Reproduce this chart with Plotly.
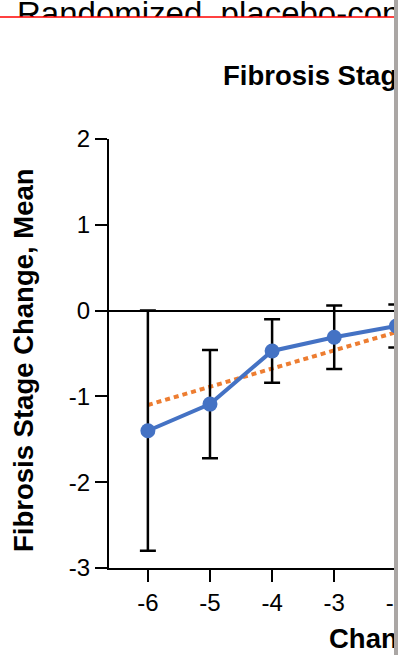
import plotly.graph_objects as go

# ---- data ----
weight_change = [-6, -5, -4, -3, -2]
fibrosis_mean = [-1.40, -1.09, -0.47, -0.31, -0.18]
fibrosis_err = [1.40, 0.63, 0.37, 0.37, 0.25]
trend_x = [-6, -1.5]
trend_y = [-1.10, -0.145]
y_ticks = [-3, -2, -1, 0, 1, 2]
y_tick_labels = ["-3", "-2", "-1", "0", "1", "2"]
x_ticks = [-6, -5, -4, -3, -2]
x_tick_labels = ["-6", "-5", "-4", "-3", "-2"]

header_text = "Randomized, placebo-controlled trials"
title_text = "Fibrosis Stage Change vs Weight Change"
x_title = "Change in Weight, %"
y_title = "Fibrosis Stage Change, Mean"

W, H = 398, 655
FONT = "Liberation Sans, Arial, sans-serif"
CLIP_R = 394  # pixel where the gray strip begins

fig = go.Figure()

fig.add_trace(go.Scatter(
    x=trend_x, y=trend_y, mode="lines",
    line=dict(color="#ED7D31", width=4, dash="5px,4px"),
    hoverinfo="skip", showlegend=False))

fig.add_trace(go.Scatter(
    x=weight_change, y=fibrosis_mean, mode="lines+markers",
    line=dict(color="#4472C4", width=4),
    marker=dict(color="#4472C4", size=15),
    error_y=dict(type="data", array=fibrosis_err, visible=True,
                 color="black", thickness=2.5, width=8),
    hoverinfo="skip", showlegend=False))

# overlay subplot (pixel coordinates) for clipped titles
fig.add_trace(go.Scatter(
    x=[223, 329], y=[78, 641], mode="text",
    text=[title_text, x_title], textposition="middle right",
    textfont=dict(family=FONT, size=27.5, color="black", weight="bold"),
    xaxis="x3", yaxis="y3", hoverinfo="skip", showlegend=False))

# header strip (clipped at red line)
fig.add_trace(go.Scatter(
    x=[17], y=[17], mode="text",
    text=[header_text], textposition="middle right",
    textfont=dict(family=FONT, size=33, color="black"),
    xaxis="x4", yaxis="y4", hoverinfo="skip", showlegend=False))

x_left_px, plot_top_px, plot_bot_px = 109, 139, 568

fig.update_layout(
    width=W, height=H,
    margin=dict(l=0, r=0, t=0, b=0),
    paper_bgcolor="white", plot_bgcolor="rgba(0,0,0,0)",
    font=dict(family=FONT, color="black"),
    xaxis=dict(
        domain=[x_left_px / W, 1], range=[-6.626, -1.973],
        tickmode="array", tickvals=x_ticks, ticktext=x_tick_labels,
        ticks="outside", ticklen=12, tickwidth=2, tickcolor="black",
        showline=True, linewidth=2, linecolor="black",
        showgrid=False, zeroline=False, tickfont=dict(size=24),
        ticklabeloverflow="allow",
        automargin=False, fixedrange=True, anchor="y"),
    yaxis=dict(
        domain=[(H - plot_bot_px) / H, (H - plot_top_px) / H], range=[-3, 2],
        tickmode="array", tickvals=y_ticks, ticktext=y_tick_labels,
        ticks="outside", ticklen=12, tickwidth=2, tickcolor="black",
        showline=True, linewidth=2, linecolor="black",
        showgrid=False, zeroline=True, zerolinecolor="black", zerolinewidth=2,
        tickfont=dict(size=24), automargin=False, fixedrange=True, anchor="x"),
    xaxis3=dict(domain=[0, CLIP_R / W], range=[0, CLIP_R], visible=False,
                fixedrange=True, anchor="y3"),
    yaxis3=dict(domain=[0, 1], range=[H, 0], visible=False,
                fixedrange=True, anchor="x3"),
    xaxis4=dict(domain=[0, CLIP_R / W], range=[0, CLIP_R], visible=False,
                fixedrange=True, anchor="y4"),
    yaxis4=dict(domain=[1 - 17 / H, 1], range=[17, 0], visible=False,
                fixedrange=True, anchor="x4"),
    annotations=[dict(
        text=y_title, textangle=-90, xref="paper", yref="paper",
        x=23 / W, y=(H - 360) / H, xanchor="center", yanchor="middle",
        showarrow=False, font=dict(family=FONT, size=27.5, color="black", weight="bold"))],
    shapes=[
        dict(type="line", xref="paper", yref="paper", x0=0, x1=CLIP_R / W,
             y0=1 - 17 / H, y1=1 - 17 / H, line=dict(color="#ff0000", width=1.5),
             layer="above"),
        dict(type="rect", xref="paper", yref="paper", x0=CLIP_R / W, x1=1.01,
             y0=-0.01, y1=1.01, fillcolor="#aaa6a4", line=dict(width=0),
             layer="above"),
    ],
)

fig.write_html(
    "out.html",
    config={"displayModeBar": False, "staticPlot": True},
    post_script="document.body.style.margin='0';document.body.style.overflow='hidden';",
)
